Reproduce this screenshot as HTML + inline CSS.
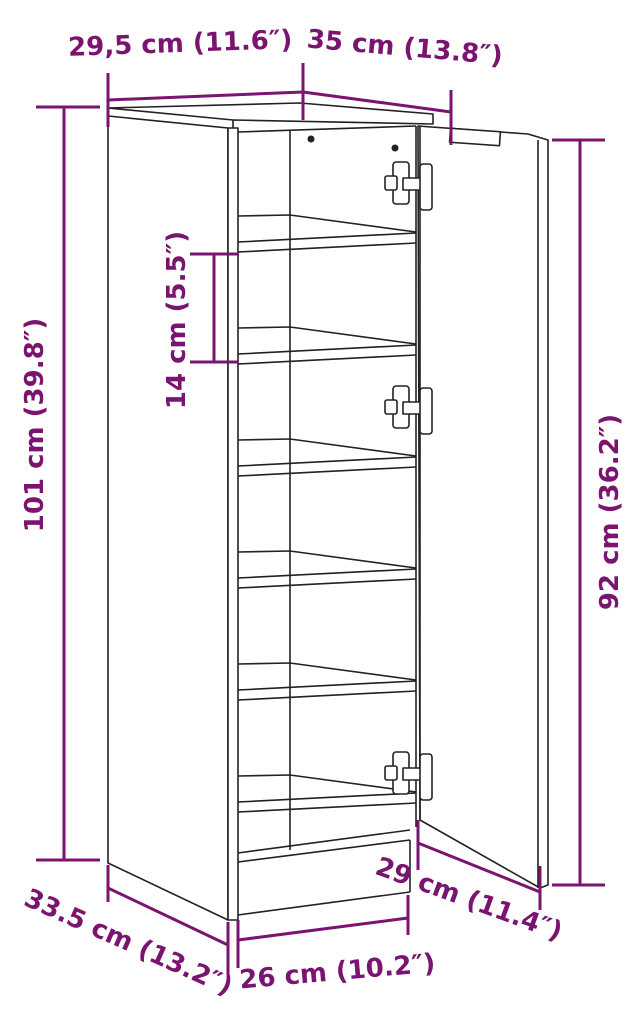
<!DOCTYPE html>
<html><head><meta charset="utf-8"><style>
html,body{margin:0;padding:0;background:#fff;}
svg{display:block;}
.d{stroke:#7a1470;stroke-width:3;fill:none;}
.t{fill:#7a1470;font-family:"DejaVu Sans","Liberation Sans",sans-serif;font-weight:bold;font-size:26px;}
.k{stroke:#222;stroke-width:1.6;fill:none;stroke-linejoin:round;}
.w{stroke:#222;stroke-width:1.6;fill:#fff;stroke-linejoin:round;}
</style></head><body>
<svg width="634" height="1013" viewBox="0 0 634 1013">
<polygon class="w" points="108,108 300,103 433,114 433,124 233,120 233,132 108,116"/>
<line class="k" x1="233" y1="120" x2="108" y2="108"/>
<polygon class="w" points="108,116 228,128 228,920 108,863"/>
<rect class="w" x="228" y="128" width="10" height="792"/>
<line class="k" x1="238" y1="132" x2="416" y2="126"/>
<line class="k" x1="290" y1="130" x2="290" y2="850"/>
<line class="k" x1="416" y1="126" x2="416" y2="827"/>
<line class="k" x1="238" y1="915" x2="410" y2="892"/>
<line class="k" x1="410" y1="840" x2="410" y2="892"/>
<line class="k" x1="238" y1="862" x2="410" y2="840"/>
<line class="k" x1="238" y1="853" x2="410" y2="830"/>
<circle cx="311" cy="139" r="3.5" fill="#222"/>
<circle cx="395" cy="148" r="3.5" fill="#222"/>
<g id="sh">
<polyline class="k" points="238,216 290,215 416,232"/>
<line class="k" x1="238" y1="242" x2="416" y2="233"/>
<line class="k" x1="238" y1="252" x2="416" y2="243"/>
</g>
<use href="#sh" y="112"/>
<use href="#sh" y="224"/>
<use href="#sh" y="336"/>
<use href="#sh" y="448"/>
<use href="#sh" y="560"/>
<polygon class="w" points="418,126 528,134 548,140 548,885 540,888 420,820"/>
<line class="k" x1="538" y1="140" x2="538" y2="888"/>
<line class="k" x1="420" y1="126" x2="420" y2="820"/>
<rect class="w" x="450" y="130" width="50" height="14" transform="rotate(4 475 137)"/>
<g id="hg" class="k">
<rect class="w" x="393" y="162" width="16" height="42" rx="3"/>
<rect class="w" x="385" y="176" width="12" height="14" rx="2"/>
<rect class="w" x="403" y="178" width="22" height="12"/>
<rect class="w" x="420" y="164" width="12" height="46" rx="3"/>
</g>
<use href="#hg" y="224"/>
<use href="#hg" y="590"/>
<polyline class="d" points="108,100 303,92 451,112"/>
<line class="d" x1="108" y1="73" x2="108" y2="127"/>
<line class="d" x1="303" y1="63" x2="303" y2="120"/>
<line class="d" x1="451" y1="90" x2="451" y2="145"/>
<text class="t" x="68" y="52" transform="rotate(-2 180 42)">29,5 cm (11.6″)</text>
<text class="t" x="306" y="56" transform="rotate(5 405 55)">35 cm (13.8″)</text>
<line class="d" x1="64" y1="107" x2="64" y2="860"/>
<line class="d" x1="36" y1="107" x2="100" y2="107"/>
<line class="d" x1="36" y1="860" x2="100" y2="860"/>
<text class="t" x="0" y="0" text-anchor="middle" transform="translate(43 425) rotate(-90)">101 cm (39.8″)</text>
<line class="d" x1="214" y1="254" x2="214" y2="362"/>
<line class="d" x1="190" y1="254" x2="238" y2="254"/>
<line class="d" x1="190" y1="362" x2="238" y2="362"/>
<text class="t" x="0" y="0" text-anchor="middle" transform="translate(185 320) rotate(-90)">14 cm (5.5″)</text>
<line class="d" x1="580" y1="140" x2="580" y2="885"/>
<line class="d" x1="552" y1="140" x2="605" y2="140"/>
<line class="d" x1="552" y1="885" x2="605" y2="885"/>
<text class="t" x="0" y="0" text-anchor="middle" transform="translate(618 512) rotate(-90)">92 cm (36.2″)</text>
<line class="d" x1="108" y1="888" x2="228" y2="945"/>
<line class="d" x1="108" y1="865" x2="108" y2="902"/>
<line class="d" x1="228" y1="922" x2="228" y2="975"/>
<text class="t" x="0" y="0" text-anchor="middle" transform="translate(125 950) rotate(24)">33.5 cm (13.2″)</text>
<line class="d" x1="238" y1="940" x2="408" y2="918"/>
<line class="d" x1="238" y1="920" x2="238" y2="968"/>
<line class="d" x1="408" y1="895" x2="408" y2="935"/>
<text class="t" x="0" y="0" text-anchor="middle" transform="translate(338 980) rotate(-5)">26 cm (10.2″)</text>
<line class="d" x1="418" y1="843" x2="540" y2="892"/>
<line class="d" x1="418" y1="820" x2="418" y2="870"/>
<line class="d" x1="540" y1="866" x2="540" y2="910"/>
<text class="t" x="0" y="0" text-anchor="middle" transform="translate(466 907) rotate(20)">29 cm (11.4″)</text>
</svg>
</body></html>
